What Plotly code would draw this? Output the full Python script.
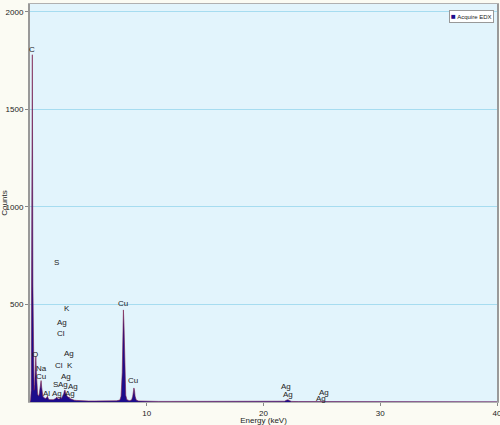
import plotly.graph_objects as go

# EDX spectrum (energy in keV, counts)
energy = [0.0, 0.05, 0.1, 0.15, 0.2, 0.25, 0.3, 0.35, 0.4, 0.45, 0.5, 0.55, 0.6, 0.65,
          0.7, 0.75, 0.8, 0.85, 0.9, 0.95, 1.0, 1.05, 1.1, 1.2, 1.3, 1.4, 1.45, 1.5,
          1.55, 1.6, 1.7, 1.8, 1.9, 2.0, 2.1, 2.2, 2.3, 2.35, 2.4, 2.5, 2.6, 2.65, 2.7,
          2.8, 2.9, 2.95, 3.0, 3.05, 3.1, 3.15, 3.2, 3.3, 3.35, 3.4, 3.5, 3.6, 3.7, 3.8,
          4.0, 4.2, 4.5, 5.0, 5.5, 6.0, 6.5, 7.0, 7.4, 7.7, 7.8, 7.9, 7.95, 8.0, 8.05,
          8.1, 8.15, 8.2, 8.3, 8.5, 8.7, 8.8, 8.9, 8.95, 9.0, 9.1, 9.3, 9.6, 10.0, 11.0,
          12.0, 13.0, 14.0, 15.0, 16.0, 17.0, 18.0, 19.0, 20.0, 21.0, 21.8, 22.0, 22.1,
          22.2, 22.4, 23.0, 24.0, 24.9, 25.0, 25.1, 26.0, 27.0, 28.0, 29.0, 30.0, 32.0,
          34.0, 36.0, 38.0, 40.0]
counts = [0, 10, 60, 900, 1780, 600, 120, 60, 90, 180, 235, 150, 60, 40,
          35, 30, 45, 80, 105, 110, 75, 45, 30, 22, 18, 20, 28, 30,
          20, 14, 12, 14, 12, 12, 14, 18, 26, 22, 16, 15, 22, 24, 18,
          30, 45, 58, 62, 45, 38, 40, 28, 24, 26, 18, 15, 14, 11, 9,
          8, 7, 6, 5, 5, 5, 5, 5, 6, 10, 30, 150, 320, 472, 400,
          210, 90, 35, 12, 7, 10, 30, 72, 60, 30, 10, 5, 4, 4, 3,
          3, 3, 3, 3, 3, 3, 3, 3, 3, 3, 4, 10, 12,
          8, 3, 2, 2, 3, 4, 3, 2, 2, 2, 2, 2, 2,
          1, 1, 1, 1]

# element labels
label_text = ["C", "S", "K", "Ag", "Cl", "Ag", "O", "Na", "Cl", "K", "Cu", "Ag",
              "S", "Ag", "Ag", "Al", "Ag", "Ag", "Cu", "Cu", "Ag", "Ag", "Ag", "Ag"]
label_x = [0.17, 2.31, 3.2, 2.75, 2.65, 3.35, 0.45, 1.0, 2.5, 3.45, 0.95, 3.1,
           2.15, 2.85, 3.65, 1.45, 2.35, 3.45, 7.95, 8.85, 21.9, 22.1, 25.2, 24.9]
label_y = [1805, 713, 477, 410, 349, 251, 241, 174, 185, 185, 133, 133,
           92, 92, 82, 46, 46, 46, 503, 108, 77, 36, 51, 20]

series_name = "Acquire EDX"
navy = "#1c0c8c"

fig = go.Figure()
fig.add_trace(go.Scatter(
    x=energy, y=counts, name=series_name, mode="lines",
    fill="tozeroy", fillcolor=navy,
    line=dict(color="#7a1a48", width=0.6),
    showlegend=False,
))

for t, xv, yv in zip(label_text, label_x, label_y):
    fig.add_annotation(x=xv, y=yv, text=t, showarrow=False,
                       font=dict(size=8, color="#222222"))

# compact legend box (plotly's own legend is too tall at this size)
fig.add_annotation(
    xref="paper", yref="paper", x=0.993, y=0.985, xanchor="right", yanchor="top",
    text=f"<span style='color:{navy};font-size:8px'>■</span> {series_name}",
    showarrow=False,
    font=dict(size=6, color="#222222"), bgcolor="white",
    bordercolor="#999999", borderwidth=1, borderpad=1,
)

fig.update_layout(
    width=500, height=425,
    margin=dict(l=30, r=3, t=4, b=23),
    paper_bgcolor="#fbfbf3",
    plot_bgcolor="#e2f4fc",
    font=dict(family="Liberation Sans, Arial, sans-serif", size=8, color="#222222"),
    showlegend=False,
    xaxis=dict(
        range=[0, 40], tickvals=[10, 20, 30, 40], showgrid=False, zeroline=False,
        ticks="outside", ticklen=3, tickcolor="#888888", ticklabeloverflow="allow",
        showline=True, linecolor="#b0b0b0", linewidth=1, mirror=True,
        title=dict(text="Energy (keV)", standoff=4, font=dict(size=8)),
        automargin=False,
    ),
    yaxis=dict(
        range=[0, 2040], tickvals=[500, 1000, 1500, 2000], showgrid=True,
        gridcolor="#a6dcf0", gridwidth=1, zeroline=False,
        ticks="outside", ticklen=3, tickcolor="#888888",
        showline=True, linecolor="#999999", linewidth=2, mirror=True,
        title=dict(text="Counts", standoff=2, font=dict(size=8)),
        automargin=False,
    ),
)

fig.write_html("out.html", config={"displayModeBar": False},
               post_script="document.body.style.margin='0';")
